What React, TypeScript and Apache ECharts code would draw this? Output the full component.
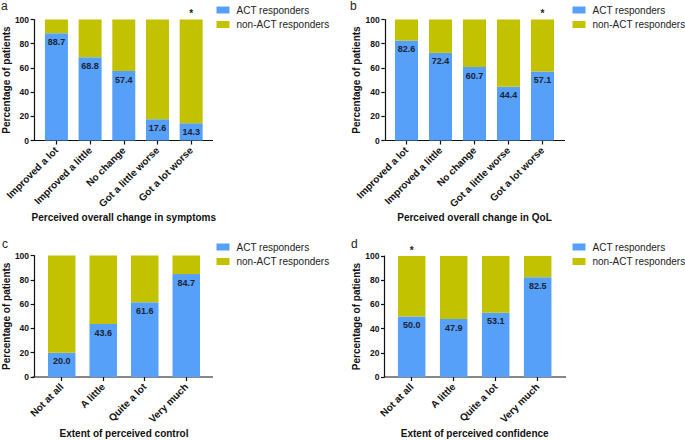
import React, { useEffect, useRef } from "react";
import * as echarts from "echarts";

const FONT = "'Liberation Sans', Arial, Helvetica, sans-serif";
const BLUE = "#56A0FA";
const OLIVE = "#C3C200";
const SERIES_NAMES = ["ACT responders", "non-ACT responders"];

// Panel a
const catsA = ["Improved a lot", "Improved a little", "No change", "Got a little worse", "Got a lot worse"];
const actA = [88.7, 68.8, 57.4, 17.6, 14.3];
const nonA = [11.3, 31.2, 42.6, 82.4, 85.7];
const sigA = ["", "", "", "", "*"];
// Panel b
const catsB = ["Improved a lot", "Improved a little", "No change", "Got a little worse", "Got a lot worse"];
const actB = [82.6, 72.4, 60.7, 44.4, 57.1];
const nonB = [17.4, 27.6, 39.3, 55.6, 42.9];
const sigB = ["", "", "", "", "*"];
// Panel c
const catsC = ["Not at all", "A little", "Quite a lot", "Very much"];
const actC = [20.0, 43.6, 61.6, 84.7];
const nonC = [80.0, 56.4, 38.4, 15.3];
const sigC = ["", "", "", ""];
// Panel d
const catsD = ["Not at all", "A little", "Quite a lot", "Very much"];
const actD = [50.0, 47.9, 53.1, 82.5];
const nonD = [50.0, 52.1, 46.9, 17.5];
const sigD = ["*", "", "", ""];

const yTicks = { min: 0, max: 100, interval: 20 };

const panels = [
  { letter: "a", title: "Perceived overall change in symptoms", cats: catsA, act: actA, non: nonA, sig: sigA,
    axisX: 32.5, left: 38, top: 19.5, width: 170, height: 121, axisEnd: 213, barW: 23, nameGap: 72,
    legendLeft: 216.5, legendTop: 5, letterX: 1, letterY: 0 },
  { letter: "b", title: "Perceived overall change in QoL", cats: catsB, act: actB, non: nonB, sig: sigB,
    axisX: 384.8, left: 389.5, top: 19.5, width: 170, height: 121, axisEnd: 565, barW: 23, nameGap: 72,
    legendLeft: 572.5, legendTop: 5, letterX: 350, letterY: 0 },
  { letter: "c", title: "Extent of perceived control", cats: catsC, act: actC, non: nonC, sig: sigC,
    axisX: 32.5, left: 39.4, top: 255.5, width: 167.6, height: 121.5, axisEnd: 213, barW: 27.5, nameGap: 51,
    legendLeft: 216.5, legendTop: 242, letterX: 2, letterY: 238 },
  { letter: "d", title: "Extent of perceived confidence", cats: catsD, act: actD, non: nonD, sig: sigD,
    axisX: 384.5, left: 390.7, top: 256, width: 168, height: 121, axisEnd: 566, barW: 27.5, nameGap: 51,
    legendLeft: 572.5, legendTop: 242, letterX: 351, letterY: 238 },
];

export default function App() {
  const ref = useRef<HTMLDivElement>(null);
  useEffect(() => {
    if (!ref.current) return;
    const chart = echarts.init(ref.current, null, { renderer: "svg" });
    const grid: any[] = [];
    const xAxis: any[] = [];
    const yAxis: any[] = [];
    const series: any[] = [];
    const legend: any[] = [];
    const graphic: any[] = [];

    panels.forEach((p, i) => {
      grid.push({ left: p.left, top: p.top, width: p.width, height: p.height, containLabel: false });
      xAxis.push({
        type: "category",
        gridIndex: i,
        data: p.cats,
        boundaryGap: true,
        axisLine: { show: false },
        axisTick: { show: true, alignWithLabel: true, length: 4, lineStyle: { color: "#111", width: 1.2 } },
        axisLabel: {
          rotate: 45, interval: 0, margin: 8, fontSize: 10, fontWeight: "bold",
          color: "#111", fontFamily: FONT,
        },
        name: p.title,
        nameLocation: "middle",
        nameGap: p.nameGap,
        nameTextStyle: { fontSize: 10, fontWeight: "bold", color: "#111", fontFamily: FONT },
        splitLine: { show: false },
      });
      yAxis.push({
        type: "value",
        gridIndex: i,
        min: yTicks.min,
        max: yTicks.max,
        interval: yTicks.interval,
        offset: p.left - p.axisX,
        axisLine: { show: true, lineStyle: { color: "#111", width: 1.2 } },
        axisTick: { show: true, length: 3.5, lineStyle: { color: "#111", width: 1.2 } },
        axisLabel: { margin: 5, fontSize: 8.5, fontWeight: "bold", color: "#111", fontFamily: FONT },
        splitLine: { show: false },
        name: "Percentage of patients",
        nameLocation: "middle",
        nameGap: 20,
        nameTextStyle: { fontSize: 10, fontWeight: "bold", color: "#111", fontFamily: FONT },
      });
      series.push({
        type: "bar",
        name: SERIES_NAMES[0],
        xAxisIndex: i,
        yAxisIndex: i,
        stack: "s" + i,
        barWidth: p.barW,
        itemStyle: { color: BLUE },
        label: {
          show: true,
          position: "insideTop",
          distance: 4,
          fontSize: 9,
          fontWeight: "bold",
          color: "#1a2233",
          fontFamily: FONT,
          formatter: (d: any) => Number(d.value).toFixed(1),
        },
        data: p.act,
      });
      series.push({
        type: "bar",
        name: SERIES_NAMES[1],
        xAxisIndex: i,
        yAxisIndex: i,
        stack: "s" + i,
        barWidth: p.barW,
        itemStyle: { color: OLIVE },
        label: {
          show: true,
          position: "top",
          distance: 1,
          fontSize: 10,
          fontWeight: "bold",
          color: "#222",
          fontFamily: FONT,
          formatter: (d: any) => p.sig[d.dataIndex],
        },
        data: p.non,
      });
      legend.push({
        orient: "vertical",
        left: p.legendLeft,
        top: p.legendTop,
        padding: 0,
        itemWidth: 13,
        itemHeight: 7,
        itemGap: 4.5,
        icon: "rect",
        data: SERIES_NAMES,
        selectedMode: false,
        textStyle: { fontSize: 10, color: "#222", fontFamily: FONT, padding: [0, 0, 0, 2] },
      });
      graphic.push({
        type: "line",
        silent: true,
        shape: { x1: p.axisX, y1: p.top + p.height, x2: p.axisEnd, y2: p.top + p.height },
        style: { stroke: "#111", lineWidth: 1.2 },
      });
      graphic.push({
        type: "text",
        left: p.letterX,
        top: p.letterY,
        style: { text: p.letter, fontSize: 12, fill: "#222", fontFamily: FONT },
      });
    });

    chart.setOption({
      animation: false,
      backgroundColor: "#ffffff",
      grid,
      xAxis,
      yAxis,
      series,
      legend,
      graphic,
    });
    return () => chart.dispose();
  }, []);
  return <div ref={ref} style={{ width: 685, height: 440, position: "absolute", left: 0, top: 0 }} />;
}
